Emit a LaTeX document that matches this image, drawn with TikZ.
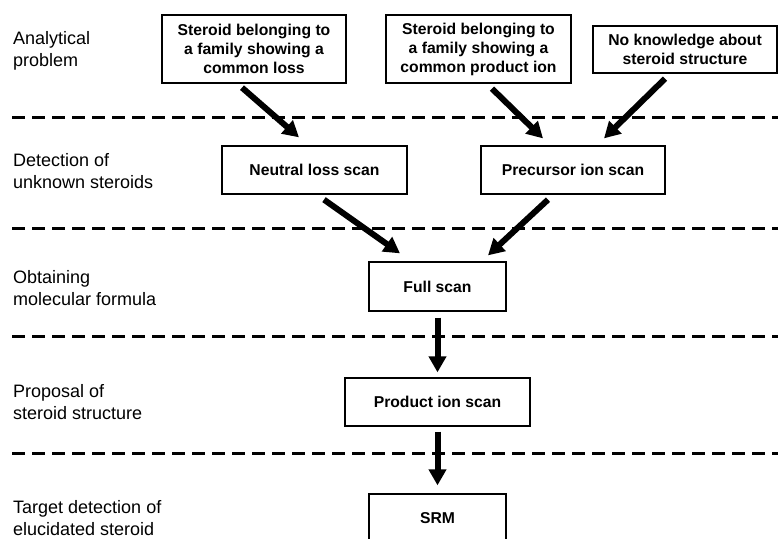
\documentclass[tikz,border=0pt]{standalone}
\usepackage{fontspec}
\setmainfont{Liberation Sans}
\usetikzlibrary{arrows.meta}
\begin{document}
\begin{tikzpicture}[x=1pt,y=-1pt,
  box/.style={draw=black,line width=1.3pt,align=center,inner sep=0pt,
    font=\fontsize{15.7}{19}\selectfont\bfseries},
  lab/.style={anchor=west,align=left,inner sep=0pt,font=\fontsize{18}{22}\selectfont},
  sep/.style={line width=3pt,dash pattern=on 13pt off 7pt},
  arr/.style={line width=6pt,-{Triangle[length=16pt,width=17pt]}}]
\useasboundingbox (0,0) rectangle (778,538);
\clip (0,0) rectangle (778,538);
% separators
\foreach \yy in {117.5,228,336,453} \draw[sep] (12,\yy) -- (778,\yy);
% left labels
\node[lab] (l1) at (13,51) {Analytical\\problem};
\node[lab] (l2) at (13,171) {Detection of\\unknown steroids};
\node[lab] (l3) at (13,288) {Obtaining\\molecular formula};
\node[lab] (l4) at (13,402) {Proposal of\\steroid structure};
\node[lab] (l5) at (13,518) {Target detection of\\elucidated steroid};
% boxes
\node[box,minimum width=184pt,minimum height=68pt] (b1) at (254,49) {Steroid belonging to\\a family showing a\\common loss};
\node[box,minimum width=185pt,minimum height=68pt] (b2) at (478.5,49) {Steroid belonging to\\a family showing a\\common product ion};
\node[box,minimum width=184pt,minimum height=47pt] (b3) at (685,49.5) {No knowledge about\\steroid structure};
\node[box,minimum width=185pt,minimum height=48pt] (nl) at (314.5,170) {Neutral loss scan};
\node[box,minimum width=184pt,minimum height=48pt] (pr) at (573,170) {Precursor ion scan};
\node[box,minimum width=137pt,minimum height=49pt] (fs) at (437.5,286.5) {Full scan};
\node[box,minimum width=185pt,minimum height=48pt] (pi) at (437.5,402) {Product ion scan};
\node[box,minimum width=137pt,minimum height=48pt] (srm) at (437.5,518) {SRM};
% arrows
\draw[arr] ([xshift=-12pt,yshift=-4pt]b1.south) -- ([xshift=-15.5pt,yshift=8pt]nl.north);
\draw[arr] ([xshift=13.5pt,yshift=-5pt]b2.south) -- ([xshift=-30pt,yshift=7pt]pr.north);
\draw[arr] ([xshift=-20pt,yshift=-5pt]b3.south) -- ([xshift=31pt,yshift=7pt]pr.north);
\draw[arr] ([xshift=9.5pt,yshift=-5pt]nl.south) -- ([xshift=-37.5pt,yshift=8pt]fs.north);
\draw[arr] ([xshift=-25pt,yshift=-5pt]pr.south) -- ([xshift=50.5pt,yshift=6pt]fs.north);
\draw[arr] ([yshift=-6pt]fs.south) -- ([yshift=5pt]pi.north);
\draw[arr] ([yshift=-5pt]pi.south) -- ([yshift=8pt]srm.north);
\end{tikzpicture}
\end{document}
